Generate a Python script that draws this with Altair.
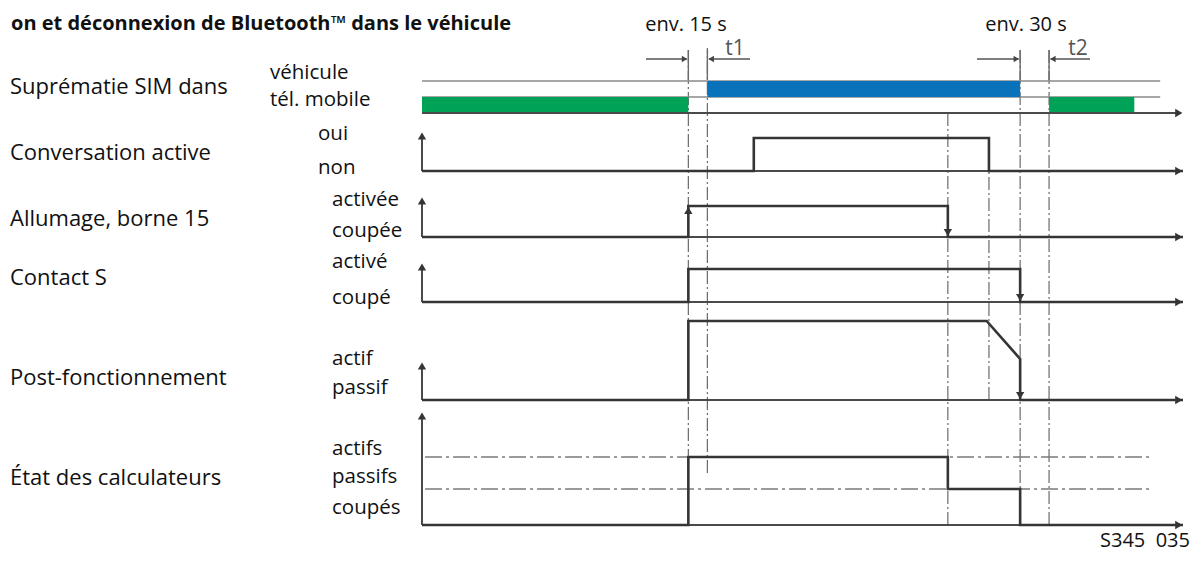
import altair as alt
import pandas as pd

# ---------------- data (content) ----------------
title_text = "on et déconnexion de Bluetooth™ dans le véhicule"
row_labels = ["Suprématie SIM dans", "Conversation active", "Allumage, borne 15",
              "Contact S", "Post-fonctionnement", "État des calculateurs"]
state_labels = [["véhicule", "tél. mobile"], ["oui", "non"], ["activée", "coupée"],
                ["activé", "coupé"], ["actif", "passif"], ["actifs", "passifs", "coupés"]]
env_labels = ["env. 15 s", "env. 30 s"]
interval_labels = ["t1", "t2"]
code_label = "S345\u00a0\u00a0035"

# event times (diagram time units, time axis runs 0 -> 100)
T_END = 100.0
t_ign_on = 35.0      # ignition on
t_sim_veh = 37.5     # SIM supremacy to vehicle (after t1)
t_call_on = 43.6
t_ign_off = 69.1
t_post_ramp = 74.2
t_call_off = 74.5
t_s_off = 78.6
t_sim_tel = 82.4     # SIM supremacy back to phone (after t2)
t_sim_end = 93.6

# signal levels (diagram units, y upward)
row_base = [88.0, 76.4, 63.2, 50.2, 30.6, 5.6]
row_high = [94.4, 83.0, 69.4, 56.8, 46.4, 19.2]
sim_mid = 91.2
etat_levels = [5.6, 12.8, 19.2]          # coupés, passifs, actifs
axis_tip = [None, 84.2, 71.2, 58.0, 38.2, 28.2]

# signal state sequences
conv_t = [0, t_call_on, t_call_on, t_call_off, t_call_off, T_END]
conv_s = [0, 0, 1, 1, 0, 0]
ign_t = [0, t_ign_on, t_ign_on, t_ign_off, t_ign_off, T_END]
ign_s = [0, 0, 1, 1, 0, 0]
cs_t = [0, t_ign_on, t_ign_on, t_s_off, t_s_off, T_END]
cs_s = [0, 0, 1, 1, 0, 0]
post_t = [0, t_ign_on, t_ign_on, t_post_ramp, t_s_off, t_s_off, T_END]
post_s = [0, 0, 1, 1, 0.52, 0, 0]
etat_t = [0, t_ign_on, t_ign_on, t_ign_off, t_ign_off, t_s_off, t_s_off, T_END]
etat_s = [0, 0, 2, 2, 1, 1, 0, 0]

# SIM supremacy bars: (start, end, owner)
sim_start = [0, t_sim_veh, t_sim_tel]
sim_end = [t_ign_on, t_s_off, t_sim_end]
sim_owner = ["tel", "veh", "tel"]

# ---------------- layout ----------------
PX_PER_T = 7.61
X0_PX = 422.0
W, H = 1188, 545
X_DOM = [(8 - X0_PX) / PX_PER_T, (8 + W - X0_PX) / PX_PER_T]
Y_DOM = [0, 109]

xs = alt.Scale(domain=X_DOM, nice=False, zero=False)
ys = alt.Scale(domain=Y_DOM, nice=False, zero=False)
SIG = "#353535"
AX = "#4a4a4a"
DASH = "#6a6a6a"
FONT = "Open Sans"


def X(f="x"):
    return alt.X(f"{f}:Q", scale=xs, axis=None)


def Y(f="y"):
    return alt.Y(f"{f}:Q", scale=ys, axis=None)


def px_t(px):
    return (px - X0_PX) / PX_PER_T


# ----- signals -----
rows = []
def add_sig(name, ts, ss, levels):
    for i, (t, s) in enumerate(zip(ts, ss)):
        rows.append({"sig": name, "o": i, "x": t, "y": levels(s)})

add_sig("conv", conv_t, conv_s, lambda s: row_base[1] + s * (row_high[1] - row_base[1]))
add_sig("ign", ign_t, ign_s, lambda s: row_base[2] + s * (row_high[2] - row_base[2]))
add_sig("cs", cs_t, cs_s, lambda s: row_base[3] + s * (row_high[3] - row_base[3]))
add_sig("post", post_t, post_s, lambda s: row_base[4] + s * (row_high[4] - row_base[4]))
add_sig("etat", etat_t, etat_s, lambda s: etat_levels[int(s)])
sig_df = pd.DataFrame(rows)

# axes (horizontal baselines + vertical arrows)
axes_rows = []
for i in range(6):
    axes_rows.append({"id": f"h{i}", "o": 0, "x": 0, "y": row_base[i]})
    axes_rows.append({"id": f"h{i}", "o": 1, "x": T_END - 0.4, "y": row_base[i]})
    if axis_tip[i] is not None:
        axes_rows.append({"id": f"v{i}", "o": 0, "x": 0, "y": row_base[i]})
        axes_rows.append({"id": f"v{i}", "o": 1, "x": 0, "y": axis_tip[i] - 0.6})
axes_df = pd.DataFrame(axes_rows)

# arrow heads
heads = []
for i in range(6):
    heads.append({"x": T_END - 0.55, "y": row_base[i], "shape": "triangle-right"})
    if axis_tip[i] is not None:
        heads.append({"x": 0, "y": axis_tip[i] - 0.8, "shape": "triangle-up"})
heads.append({"x": t_ign_on, "y": row_high[2] - 0.9, "shape": "triangle-up"})
heads.append({"x": t_ign_off, "y": row_base[2] + 0.9, "shape": "triangle-down"})
heads.append({"x": t_s_off, "y": row_base[3] + 0.9, "shape": "triangle-down"})
heads.append({"x": t_s_off, "y": row_base[4] + 0.9, "shape": "triangle-down"})
heads_df = pd.DataFrame(heads)

# SIM rows: thin reference lines
sim_lines_df = pd.DataFrame({"x": [0, 0], "x2": [97.0, 97.0], "y": [row_high[0], sim_mid]})
sim_bar_df = pd.DataFrame({"x": sim_start, "x2": sim_end, "owner": sim_owner})
sim_bar_df["y"] = [row_base[0] if o == "tel" else sim_mid for o in sim_owner]
sim_bar_df["y2"] = [sim_mid if o == "tel" else row_high[0] for o in sim_owner]

# vertical dash-dot guides
guide_df = pd.DataFrame({
    "x": [t_ign_on, t_sim_veh, t_ign_off, t_call_off, t_s_off, t_sim_tel],
    "y": [etat_levels[0], 16.0, etat_levels[0], row_base[4], etat_levels[0], etat_levels[0]],
    "y2": [101.0, 101.0, row_base[0], row_base[1], 101.0, 101.0],
})
tick_df = pd.DataFrame({"x": [t_ign_on, t_sim_veh, t_s_off, t_sim_tel],
                        "y": [94.6] * 4, "y2": [100.6] * 4})

# horizontal dash-dot (actifs / passifs)
hdash_df = pd.DataFrame({"x": [0.4, 0.4], "x2": [95.9, 95.9], "y": [etat_levels[2], etat_levels[1]]})

# interval arrows (t1 / t2)
iv_df = pd.DataFrame({"x": [px_t(646), px_t(750), px_t(977), px_t(1090)],
                      "x2": [t_ign_on - 0.2, t_sim_veh + 0.2, t_s_off - 0.2, t_sim_tel + 0.2],
                      "y": [98.8] * 4})
iv_heads = pd.DataFrame({"x": [t_ign_on - 0.5, t_sim_veh + 0.5, t_s_off - 0.5, t_sim_tel + 0.5],
                         "y": [98.8] * 4,
                         "shape": ["triangle-right", "triangle-left", "triangle-right", "triangle-left"]})

# ---------------- texts ----------------
left_df = pd.DataFrame({"x": [px_t(10)] * 6,
                        "y": [93.2, 80.0, 66.8, 55.0, 35.0, 15.0],
                        "t": row_labels})
st_x = [px_t(270)] * 2 + [px_t(318)] * 2 + [px_t(332)] * 9
st_y = [96.0, 90.6, 83.8, 77.0, 70.6, 64.4, 58.2, 51.0, 38.8, 33.0, 20.8, 15.2, 9.0]
state_df = pd.DataFrame({"x": st_x, "y": st_y, "t": [s for g in state_labels for s in g]})
env_df = pd.DataFrame({"x": [px_t(686), px_t(1026)], "y": [105.6, 105.6], "t": env_labels})
ivl_df = pd.DataFrame({"x": [px_t(735), px_t(1078)], "y": [100.9, 100.9], "t": interval_labels})
title_df = pd.DataFrame({"x": [px_t(11)], "y": [105.9], "t": [title_text]})
code_df = pd.DataFrame({"x": [px_t(1190)], "y": [2.4], "t": [code_label]})

# ---------------- layers ----------------
bars = alt.Chart(sim_bar_df).mark_rect().encode(
    x=X(), x2="x2:Q", y=Y(), y2="y2:Q",
    color=alt.Color("owner:N", scale=alt.Scale(domain=["tel", "veh"], range=["#00a257", "#0a72bb"]), legend=None))
sim_lines = alt.Chart(sim_lines_df).mark_rule(color="#8a8a8a", strokeWidth=1.5).encode(x=X(), x2="x2:Q", y=Y())
guides = alt.Chart(guide_df).mark_rule(color=DASH, strokeWidth=1.2, strokeDash=[13, 3, 2, 3]).encode(
    x=X(), y=Y(), y2="y2:Q")
ticks = alt.Chart(tick_df).mark_rule(color=DASH, strokeWidth=1.4).encode(x=X(), y=Y(), y2="y2:Q")
hdash = alt.Chart(hdash_df).mark_rule(color="#7a7a7a", strokeWidth=1.3, strokeDash=[17, 4, 3, 4]).encode(
    x=X(), x2="x2:Q", y=Y())
axes_l = alt.Chart(axes_df).mark_line(color=AX, strokeWidth=2).encode(
    x=X(), y=Y(), detail="id:N", order="o:Q")
sigs = alt.Chart(sig_df).mark_line(color=SIG, strokeWidth=2.6, strokeJoin="miter").encode(
    x=X(), y=Y(), detail="sig:N", order="o:Q")
heads_l = alt.Chart(heads_df).mark_point(filled=True, color=SIG, opacity=1, size=70).encode(
    x=X(), y=Y(), shape=alt.Shape("shape:N", scale=None))
iv_l = alt.Chart(iv_df).mark_rule(color="#555", strokeWidth=1.3).encode(x=X(), x2="x2:Q", y=Y())
iv_h = alt.Chart(iv_heads).mark_point(filled=True, color="#444", opacity=1, size=40).encode(
    x=X(), y=Y(), shape=alt.Shape("shape:N", scale=None))

txt_left = alt.Chart(left_df).mark_text(align="left", baseline="middle", font=FONT, fontSize=22, color="#111").encode(
    x=X(), y=Y(), text="t:N")
txt_state = alt.Chart(state_df).mark_text(align="left", baseline="middle", font=FONT, fontSize=20.5, color="#111").encode(
    x=X(), y=Y(), text="t:N")
txt_env = alt.Chart(env_df).mark_text(align="center", baseline="middle", font=FONT, fontSize=20, color="#111").encode(
    x=X(), y=Y(), text="t:N")
txt_ivl = alt.Chart(ivl_df).mark_text(align="center", baseline="middle", font=FONT, fontSize=21, color="#555").encode(
    x=X(), y=Y(), text="t:N")
txt_title = alt.Chart(title_df).mark_text(align="left", baseline="middle", font=FONT, fontSize=20,
                                          fontWeight="bold", color="#111").encode(x=X(), y=Y(), text="t:N")
txt_code = alt.Chart(code_df).mark_text(align="right", baseline="middle", font=FONT, fontSize=20, color="#111").encode(
    x=X(), y=Y(), text="t:N")

chart = alt.layer(
    guides, ticks, hdash, sim_lines, bars, axes_l, sigs, heads_l, iv_l, iv_h,
    txt_left, txt_state, txt_env, txt_ivl, txt_title, txt_code
).properties(
    width=W, height=H, autosize=alt.AutoSizeParams(type="none"), padding=0, background="white"
).configure_view(stroke=None)

chart.save("out.html", embed_options={"renderer": "svg", "actions": False})
